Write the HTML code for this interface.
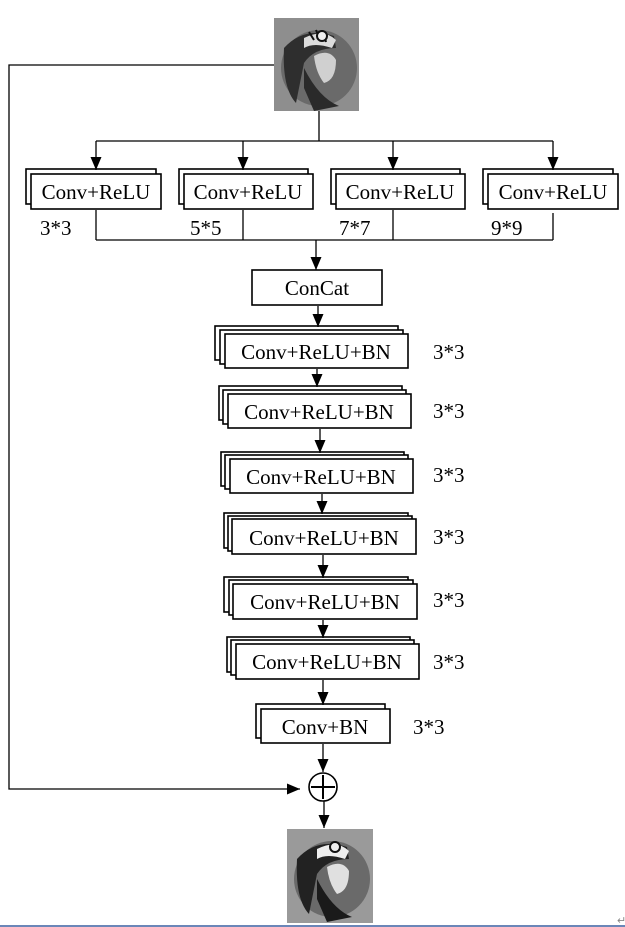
<!DOCTYPE html>
<html><head><meta charset="utf-8"><style>
html,body{margin:0;padding:0;background:#fff;}
svg{display:block;}
text{font-family:"Liberation Serif",serif;font-size:21px;fill:#000;}
</style></head><body>
<svg width="625" height="927" viewBox="0 0 625 927" xmlns="http://www.w3.org/2000/svg">
<defs>
<marker id="a" markerWidth="13" markerHeight="11" refX="13" refY="5.5" orient="auto" markerUnits="userSpaceOnUse">
<path d="M0,0 L13,5.5 L0,11 z" fill="#000"/></marker>
</defs>

<g transform="translate(274,18)">
<rect x="0" y="0" width="85" height="93" fill="#8e8e8e"/>
<circle cx="45" cy="50" r="38" fill="#6a6a6a"/>
<path d="M10,30 Q30,8 60,18 L62,30 Q40,30 30,45 L22,85 Q8,70 10,30z" fill="#2e2e2e"/>
<path d="M30,20 Q50,10 62,22 L58,30 Q40,24 30,30z" fill="#dcdcdc"/>
<path d="M35,14 L40,22 M42,12 L46,22 M50,16 L52,24" stroke="#111" stroke-width="2"/>
<circle cx="48" cy="18" r="5" fill="#eee" stroke="#111" stroke-width="2"/>
<path d="M40,38 Q55,30 62,42 Q62,62 50,65 Q42,55 40,38z" fill="#d0d0d0"/>
<path d="M30,50 Q45,80 65,88 L40,93 L30,70z" fill="#2a2a2a"/>
</g>
<g transform="translate(287,829)">
<rect x="0" y="0" width="86" height="94" fill="#9a9a9a"/>
<circle cx="45" cy="50" r="38" fill="#6a6a6a"/>
<path d="M10,30 Q30,8 60,18 L62,30 Q40,30 30,45 L22,85 Q8,70 10,30z" fill="#222"/>
<path d="M30,20 Q50,10 62,22 L58,30 Q40,24 30,30z" fill="#eee"/>
<circle cx="48" cy="18" r="5" fill="#eee" stroke="#111" stroke-width="2"/>
<path d="M40,38 Q55,30 62,42 Q62,62 50,65 Q42,55 40,38z" fill="#e0e0e0"/>
<path d="M30,50 Q45,80 65,88 L40,93 L30,70z" fill="#1a1a1a"/>
</g>

<g stroke="#000" stroke-width="1.6" fill="#fff">
<rect x="26" y="169" width="130" height="35"/><rect x="31" y="174" width="130" height="35"/>
<rect x="179" y="169" width="129" height="35"/><rect x="184" y="174" width="129" height="35"/>
<rect x="331" y="169" width="129" height="35"/><rect x="336" y="174" width="129" height="35"/>
<rect x="483" y="169" width="130" height="35"/><rect x="488" y="174" width="130" height="35"/>
<rect x="252" y="270" width="130" height="35"/>
<rect x="215" y="326" width="183" height="34"/><rect x="220" y="330" width="183" height="34"/><rect x="225" y="334" width="183" height="34"/>
<rect x="219" y="386" width="183" height="34"/><rect x="223" y="390" width="183" height="34"/><rect x="228" y="394" width="183" height="34"/>
<rect x="221" y="452" width="183" height="34"/><rect x="225" y="455" width="183" height="34"/><rect x="230" y="459" width="183" height="34"/>
<rect x="224" y="513" width="184" height="35"/><rect x="228" y="516" width="184" height="35"/><rect x="232" y="519" width="184" height="35"/>
<rect x="224" y="577" width="184" height="35"/><rect x="229" y="580" width="184" height="35"/><rect x="233" y="584" width="184" height="35"/>
<rect x="227" y="637" width="183" height="35"/><rect x="231" y="640" width="183" height="35"/><rect x="236" y="644" width="183" height="35"/>
<rect x="256" y="704" width="129" height="34"/><rect x="261" y="709" width="129" height="34"/>
<circle cx="323" cy="787" r="14"/>
</g>
<path d="M311,787 H335 M323,775 V799" stroke="#000" stroke-width="2"/>

<g stroke="#000" stroke-width="1.3" fill="none">
<polyline points="274,65 9,65 9,789 300,789" marker-end="url(#a)"/>
<line x1="319" y1="111" x2="319" y2="141"/>
<line x1="96" y1="141" x2="553" y2="141"/>
<line x1="96" y1="141" x2="96" y2="170" marker-end="url(#a)"/>
<line x1="243" y1="141" x2="243" y2="170" marker-end="url(#a)"/>
<line x1="393" y1="141" x2="393" y2="170" marker-end="url(#a)"/>
<line x1="553" y1="141" x2="553" y2="170" marker-end="url(#a)"/>
<line x1="96" y1="210" x2="96" y2="240"/>
<line x1="243" y1="210" x2="243" y2="240"/>
<line x1="393" y1="210" x2="393" y2="240"/>
<line x1="553" y1="213" x2="553" y2="240"/>
<line x1="96" y1="240" x2="553" y2="240"/>
<line x1="316" y1="240" x2="316" y2="270" marker-end="url(#a)"/>
<line x1="318" y1="306" x2="318" y2="327" marker-end="url(#a)"/>
<line x1="317" y1="369" x2="317" y2="387" marker-end="url(#a)"/>
<line x1="320" y1="429" x2="320" y2="453" marker-end="url(#a)"/>
<line x1="322" y1="494" x2="322" y2="514" marker-end="url(#a)"/>
<line x1="323" y1="555" x2="323" y2="578" marker-end="url(#a)"/>
<line x1="323" y1="620" x2="323" y2="638" marker-end="url(#a)"/>
<line x1="323" y1="680" x2="323" y2="705" marker-end="url(#a)"/>
<line x1="323" y1="744" x2="323" y2="772" marker-end="url(#a)"/>
<line x1="324" y1="801" x2="324" y2="828" marker-end="url(#a)"/>
</g>

<g text-anchor="middle">
<text x="96" y="199">Conv+ReLU</text>
<text x="248" y="199">Conv+ReLU</text>
<text x="400" y="199">Conv+ReLU</text>
<text x="553" y="199">Conv+ReLU</text>
<text x="317" y="295">ConCat</text>
<text x="316" y="359">Conv+ReLU+BN</text>
<text x="319" y="419">Conv+ReLU+BN</text>
<text x="321" y="484">Conv+ReLU+BN</text>
<text x="324" y="545">Conv+ReLU+BN</text>
<text x="325" y="609">Conv+ReLU+BN</text>
<text x="327" y="669">Conv+ReLU+BN</text>
<text x="325" y="734">Conv+BN</text>
</g>
<text x="40" y="235">3*3</text>
<text x="190" y="235">5*5</text>
<text x="339" y="235">7*7</text>
<text x="491" y="235">9*9</text>
<text x="433" y="359">3*3</text>
<text x="433" y="418">3*3</text>
<text x="433" y="482">3*3</text>
<text x="433" y="544">3*3</text>
<text x="433" y="607">3*3</text>
<text x="433" y="669">3*3</text>
<text x="413" y="734">3*3</text>
<text x="617" y="924" style="font-size:11px;fill:#888">↵</text>
<line x1="0" y1="926" x2="625" y2="926" stroke="#3a5fa0" stroke-width="1.5"/>
</svg>
</body></html>
